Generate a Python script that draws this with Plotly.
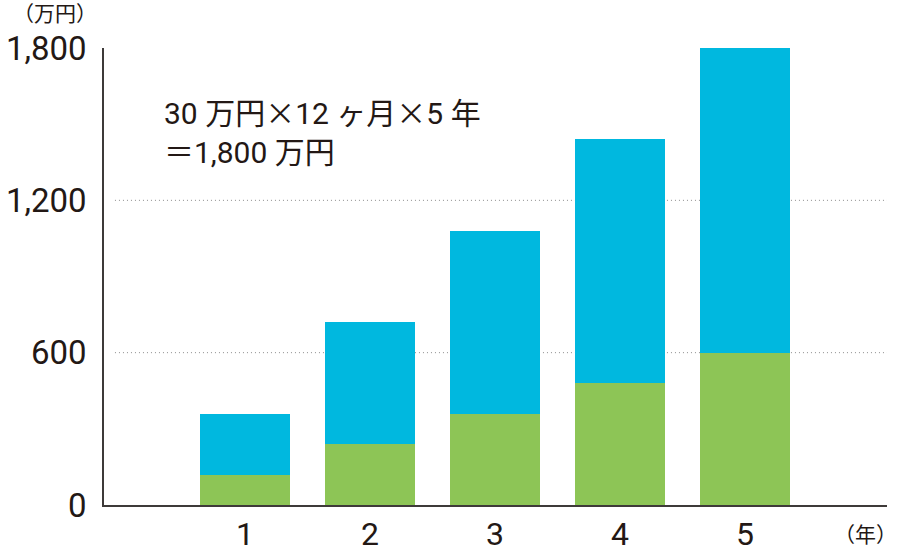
import plotly.graph_objects as go

years = [1, 2, 3, 4, 5]
year_labels = ["1", "2", "3", "4", "5"]
green_values = [120, 240, 360, 480, 600]
blue_values = [240, 480, 720, 960, 1200]
y_ticks = [0, 600, 1200, 1800]
y_tick_labels = ["0", "600", "1,200", "1,800"]
grid_values = [600, 1200]

BLUE = "#00B8DF"
GREEN = "#8DC556"
TEXT = "#231815"
AXIS = "#3e3a39"
FONT = "Roboto, 'Noto Sans CJK JP', sans-serif"
TICKFONT = "Roboto, sans-serif"
CJK = "'Noto Sans CJK JP'"

fig = go.Figure()
fig.add_trace(go.Bar(x=years, y=green_values, marker=dict(color=GREEN, line=dict(width=0)), width=0.72))
fig.add_trace(go.Bar(x=years, y=blue_values, marker=dict(color=BLUE, line=dict(width=0)), width=0.72))

for g in grid_values:
    fig.add_shape(type="line", xref="paper", yref="y", x0=0.014, x1=1, y0=g, y1=g,
                  line=dict(color="#8c8c8c", width=1, dash="1px,3px"), layer="below")

times = f"<span style=\"font-family:{CJK}\">×</span>"
line1 = f"30 万円{times}12 ヶ月{times}5 年"
line2 = f"<span style=\"font-family:{CJK}\">＝</span>1,800 万円"

fig.update_layout(
    barmode="stack",
    width=900, height=556,
    margin=dict(l=104, r=13, t=48, b=51),
    plot_bgcolor="white", paper_bgcolor="white",
    showlegend=False,
    font=dict(family=FONT, color=TEXT),
    xaxis=dict(range=[-0.128, 6.136], tickvals=years, ticktext=year_labels,
               showline=True, linecolor=AXIS, linewidth=1.5, showgrid=False,
               zeroline=False, ticks="", ticklabelstandoff=0, automargin=False,
               tickfont=dict(size=32, family=TICKFONT, color=TEXT)),
    yaxis=dict(range=[0, 1800], tickvals=y_ticks, ticktext=y_tick_labels,
               showline=True, linecolor=AXIS, linewidth=1.5, showgrid=False,
               zeroline=False, ticks="", ticklabelstandoff=9, automargin=False,
               tickfont=dict(size=33, family=TICKFONT, color=TEXT)),
    annotations=[
        dict(text=line1, xref="paper", yref="paper", x=0.074, y=0.862,
             xanchor="left", yanchor="middle", showarrow=False,
             font=dict(size=30, family=FONT, color=TEXT)),
        dict(text=line2, xref="paper", yref="paper", x=0.074, y=0.777,
             xanchor="left", yanchor="middle", showarrow=False,
             font=dict(size=30, family=FONT, color=TEXT)),
        dict(text="（万円）", xref="paper", yref="paper", x=-0.0626, y=1.075,
             xanchor="center", yanchor="middle", showarrow=False,
             font=dict(size=21, family=FONT, color=TEXT)),
        dict(text="（年）", xref="paper", yref="paper", x=0.973, y=-0.0656,
             xanchor="center", yanchor="middle", showarrow=False,
             font=dict(size=21, family=FONT, color=TEXT)),
    ],
)

fig.write_html("out.html", config={"displayModeBar": False},
               post_script="document.body.style.margin='0';")
